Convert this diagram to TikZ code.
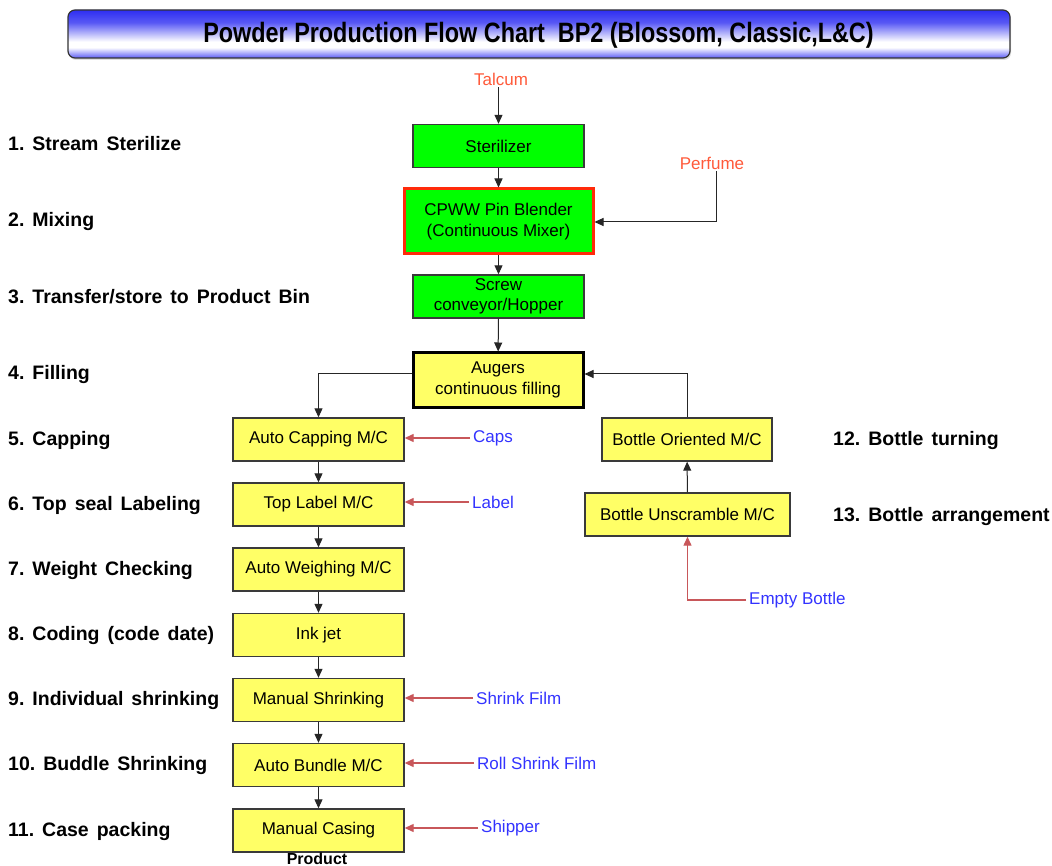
\documentclass[tikz,border=0pt]{standalone}
\usepackage{fontspec}
\setmainfont{Liberation Sans}
\newfontfamily\titlefont[FakeStretch=0.835]{Liberation Sans}
\usetikzlibrary{arrows.meta,shadows}

\definecolor{boxgreen}{HTML}{00FF00}
\definecolor{boxyellow}{HTML}{FFFF66}
\definecolor{boxline}{HTML}{3A3A3A}
\definecolor{mixred}{HTML}{FF2A0A}
\definecolor{srcred}{HTML}{FF5A3A}
\definecolor{srcblue}{HTML}{3333FF}
\definecolor{feedred}{HTML}{C8575A}
\definecolor{tbtop}{HTML}{2E2EF2}
\definecolor{tbbot}{HTML}{5C5CF5}

% title bar: strong blue on top, light band low in the bar, blue again at the foot
\pgfdeclareverticalshading{titlebar}{100bp}{%
  color(0bp)=(tbbot); color(25bp)=(tbbot); color(36bp)=(white);
  color(42bp)=(white); color(62bp)=(tbtop!80); color(75bp)=(tbtop); color(100bp)=(tbtop)}

% wider gap between the words of the step names
\newcommand{\wsp}{\hspace{8pt}}

\tikzset{
  box/.style={draw=boxline, line width=1.4pt, inner sep=0pt, align=center,
    minimum width=171pt, minimum height=43pt, font=\fontsize{17}{20.5}\selectfont},
  greenbox/.style={box, fill=boxgreen},
  yellowbox/.style={box, fill=boxyellow},
  steplabel/.style={anchor=base west, inner sep=0pt, font=\fontsize{19.5}{22}\selectfont\bfseries},
  srclabel/.style={inner sep=2pt, text=srcred, font=\fontsize{17}{20}\selectfont},
  inlabel/.style={anchor=west, inner sep=3pt, text=srcblue, font=\fontsize{17}{20}\selectfont},
  flow/.style={draw=black!85, line width=1pt, -{Triangle[length=9pt,width=8pt]}},
  feed/.style={draw=feedred, line width=1.3pt, -{Triangle[length=9pt,width=8pt]}},
}

\begin{document}
\begin{tikzpicture}[x=1pt,y=-1pt]
\clip (0,0) rectangle (1052,866);
\fill[white] (0,0) rectangle (1052,866);

% title bar
\node[draw=black!80, line width=1.2pt, rounded corners=7pt, shading=titlebar,
      minimum width=942pt, minimum height=48pt, inner sep=0pt,
      drop shadow={opacity=0.25, shadow xshift=1pt, shadow yshift=-2pt}]
  (title) at (539,34) {};
\node[font=\fontsize{28}{30}\selectfont\titlefont\bfseries, inner sep=0pt]
  (titletext) at (538.5,35) {Powder Production Flow Chart\ \ BP2 (Blossom, Classic,L\&C)};

% step names, left column (baselines)
\node[steplabel] (s1)  at (8,151) {1.\wsp Stream\wsp Sterilize};
\node[steplabel] (s2)  at (8,227) {2.\wsp Mixing};
\node[steplabel] (s3)  at (8,304) {3.\wsp Transfer/store\wsp to\wsp Product\wsp Bin};
\node[steplabel] (s4)  at (8,380) {4.\wsp Filling};
\node[steplabel] (s5)  at (8,445) {5.\wsp Capping};
\node[steplabel] (s6)  at (8,510) {6.\wsp Top\wsp seal\wsp Labeling};
\node[steplabel] (s7)  at (8,575) {7.\wsp Weight\wsp Checking};
\node[steplabel] (s8)  at (8,640) {8.\wsp Coding\wsp (code\wsp date)};
\node[steplabel] (s9)  at (8,705) {9.\wsp Individual\wsp shrinking};
\node[steplabel] (s10) at (8,770) {10.\wsp Buddle\wsp Shrinking};
\node[steplabel] (s11) at (8,836) {11.\wsp Case\wsp packing};
% step names, right column
\node[steplabel] (s12) at (833,445) {12.\wsp Bottle\wsp turning};
\node[steplabel] (s13) at (833,521) {13.\wsp Bottle\wsp arrangement};

% powder line
\node[srclabel] (talcum) at (501,79) {Talcum};
\node[greenbox] (steril) at (498.5,146) {Sterilizer};
\node[box, fill=boxgreen, draw=mixred, line width=3pt, minimum width=189pt, minimum height=65pt]
  (blend) at (498.5,221.5) {CPWW Pin Blender\\(Continuous Mixer)};
\node[srclabel] (perfume) at (712,163) {Perfume};
\node[greenbox] (screw) at (498.5,296.5) {Screw\\conveyor/Hopper};
\node[yellowbox, draw=black, line width=3pt, minimum width=170pt, minimum height=54pt]
  (auger) at (498,380) {Augers\\continuous filling};

% packing line
\node[yellowbox] (cap)    at (318.5,439.5) {Auto Capping M/C};
\node[yellowbox] (toplbl) at (318.5,504.5) {Top Label M/C};
\node[yellowbox] (weigh)  at (318.5,569.5) {Auto Weighing M/C};
\node[yellowbox] (ink)    at (318.5,635)   {Ink jet};
\node[yellowbox] (shrink) at (318.5,700)   {Manual Shrinking};
\node[yellowbox] (bundle) at (318.5,765)   {Auto Bundle M/C};
\node[yellowbox] (casing) at (318.5,830.5) {Manual Casing};
\node[anchor=base, inner sep=0pt, font=\fontsize{16}{18}\selectfont\bfseries] (product) at (317,864.5) {Product};

% bottle feed line
\node[yellowbox, minimum width=170pt] (orient) at (687,439.5) {Bottle Oriented M/C};
\node[yellowbox, minimum width=205pt] (unscr)  at (687.5,514.5) {Bottle Unscramble M/C};
\node[inlabel] (empty) at (746,600) {Empty Bottle};

% packing materials
\node[inlabel] (capsin)   at (470,438)   {Caps};
\node[inlabel] (labelin)  at (469,502)   {Label};
\node[inlabel] (filmin)   at (473,698)   {Shrink Film};
\node[inlabel] (rollin)   at (474,763)   {Roll Shrink Film};
\node[inlabel] (shipin)   at (478,828)   {Shipper};

% row where the filler connects to both lines
\coordinate (fillrow) at (0,374);
\coordinate (perfbend) at (716,222);

% powder flow
\draw[flow] (talcum.south -| steril.north) -- (steril.north);
\draw[flow] (steril) -- (blend);
\draw[flow] (perfume.south -| perfbend) -- (perfbend) -- (blend.east |- perfbend);
\draw[flow] (blend) -- (screw);
\draw[flow] (screw) -- (auger);

% filler to packing line
\draw[flow] (auger.west |- fillrow) -| (cap.north);
\draw[flow] (cap) -- (toplbl);
\draw[flow] (toplbl) -- (weigh);
\draw[flow] (weigh) -- (ink);
\draw[flow] (ink) -- (shrink);
\draw[flow] (shrink) -- (bundle);
\draw[flow] (bundle) -- (casing);

% bottles to filler
\draw[flow] (unscr) -- (orient);
\draw[flow] (orient.north) |- (auger.east |- fillrow);
\draw[feed] (empty.west) -| (unscr.south);

% materials into machines
\draw[feed] (capsin.west)  -- (cap.east |- capsin.west);
\draw[feed] (labelin.west) -- (toplbl.east |- labelin.west);
\draw[feed] (filmin.west)  -- (shrink.east |- filmin.west);
\draw[feed] (rollin.west)  -- (bundle.east |- rollin.west);
\draw[feed] (shipin.west)  -- (casing.east |- shipin.west);
\end{tikzpicture}
\end{document}
